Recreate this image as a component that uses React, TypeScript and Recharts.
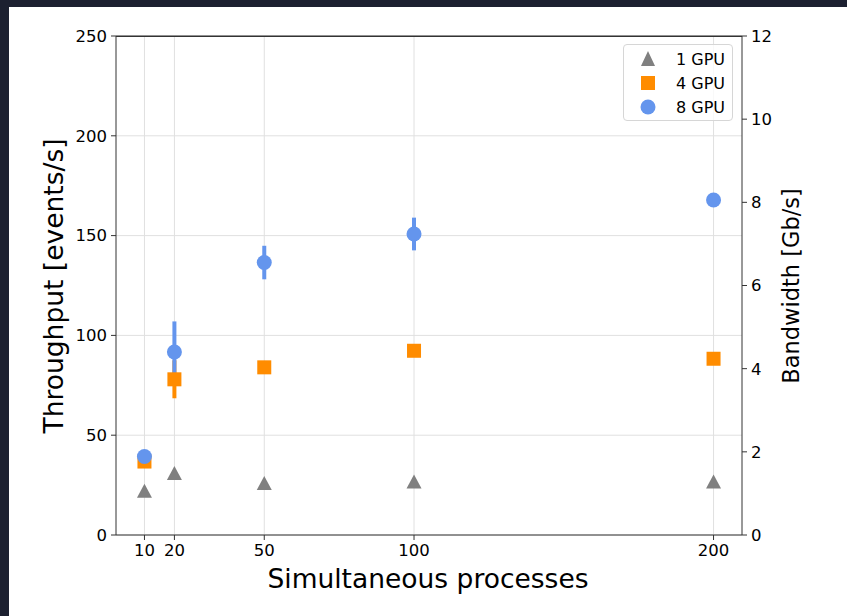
import { ScatterChart, Scatter, XAxis, YAxis, CartesianGrid, ErrorBar, Label, ReferenceLine } from "recharts"

const processes = [10, 20, 50, 100, 200]
const gpu1 = [21.7, 30.5, 25.5, 26.3, 26.3]
const gpu4 = [36.8, 78, 84, 92.3, 88.3]
const gpu4Err = [0, 9.5, 0, 0, 0]
const gpu8 = [39.3, 91.7, 136.5, 150.8, 167.8]
const gpu8Err = [0, 15.3, 8.4, 8.2, 0]

const xTicks = [10, 20, 50, 100, 200]
const leftTicks = [0, 50, 100, 150, 200, 250]
const rightTicks = [0, 2, 4, 6, 8, 10, 12]

const GREY = "#808080"
const ORANGE = "#ff8c00"
const BLUE = "#6495ed"
const FONT = "'DejaVu Sans', sans-serif"

const d1 = processes.map((x, i) => ({ x, y: gpu1[i] }))
const d4 = processes.map((x, i) => ({ x, y: gpu4[i], err: gpu4Err[i] }))
const d8 = processes.map((x, i) => ({ x, y: gpu8[i], err: gpu8Err[i] }))

const Triangle = (p: any) => (
  <polygon points={`${p.cx},${p.cy - 8} ${p.cx - 7.5},${p.cy + 6} ${p.cx + 7.5},${p.cy + 6}`} fill={GREY} />
)
const Square = (p: any) => <rect x={p.cx - 7} y={p.cy - 7} width={14} height={14} fill={ORANGE} />
const Dot = (p: any) => <circle cx={p.cx} cy={p.cy} r={7.5} fill={BLUE} />

const legendItems = [
  { name: "1 GPU", kind: "tri" },
  { name: "4 GPU", kind: "sq" },
  { name: "8 GPU", kind: "dot" },
]

function LegendBox() {
  return (
    <div
      style={{
        position: "absolute",
        left: 614,
        top: 37,
        width: 110,
        height: 77,
        border: "1px solid #d6d6d6",
        borderRadius: 4,
        background: "rgba(255,255,255,0.8)",
        fontFamily: FONT,
        fontSize: 16,
        color: "#000",
        boxSizing: "border-box",
        paddingTop: 2,
      }}
    >
      {legendItems.map((it) => (
        <div key={it.name} style={{ display: "flex", alignItems: "center", height: 24 }}>
          <svg width={40} height={20} style={{ marginLeft: 4 }}>
            {it.kind === "tri" && <polygon points="20,2 13,17 27,17" fill={GREY} />}
            {it.kind === "sq" && <rect x={13} y={3} width={14} height={14} fill={ORANGE} />}
            {it.kind === "dot" && <circle cx={20} cy={10} r={7.5} fill={BLUE} />}
          </svg>
          <span style={{ marginLeft: 8 }}>{it.name}</span>
        </div>
      ))}
    </div>
  )
}

const tickStyle = { fontSize: 16.5, fill: "#000", fontFamily: FONT }

export default function App() {
  return (
    <div style={{ position: "fixed", left: 0, top: 0, width: 847, height: 616, background: "#1c2030" }}>
      <div style={{ position: "absolute", left: 9, top: 7, width: 838, height: 609, background: "#fff" }}>
        <ScatterChart width={838} height={609} margin={{ top: 29, right: 45, bottom: 51, left: 47 }}>
          <CartesianGrid
            yAxisId="left"
            stroke="#e0e0e0"
            strokeWidth={1}
            verticalValues={xTicks}
            horizontalValues={leftTicks}
          />
          <XAxis
            type="number"
            dataKey="x"
            domain={[0.5, 209.5]}
            ticks={xTicks}
            tick={tickStyle}
            tickSize={5}
            tickMargin={4}
            stroke="#333"
            height={30}
            allowDataOverflow
          >
            <Label
              content={() => (
                <text x={419} y={581} textAnchor="middle" fontSize={26.5} fontFamily={FONT} fill="#000">
                  Simultaneous processes
                </text>
              )}
            />
          </XAxis>
          <YAxis
            yAxisId="left"
            type="number"
            dataKey="y"
            domain={[0, 250]}
            ticks={leftTicks}
            tick={tickStyle}
            tickSize={5}
            tickMargin={4}
            stroke="#333"
            width={60}
            allowDataOverflow
          >
            <Label
              content={() => (
                <text
                  x={44}
                  y={279}
                  textAnchor="middle"
                  fontSize={26.5}
                  fontFamily={FONT}
                  fill="#000"
                  transform="rotate(-90 44 279)"
                  dominantBaseline="central"
                >
                  Throughput [events/s]
                </text>
              )}
            />
          </YAxis>
          <YAxis
            yAxisId="right"
            orientation="right"
            type="number"
            domain={[0, 12]}
            ticks={rightTicks}
            tick={tickStyle}
            tickSize={5}
            tickMargin={4}
            stroke="#333"
            width={60}
            allowDataOverflow
          >
            <Label
              content={() => (
                <text
                  x={782}
                  y={279}
                  textAnchor="middle"
                  fontSize={22.5}
                  fontFamily={FONT}
                  fill="#000"
                  transform="rotate(-90 782 279)"
                  dominantBaseline="central"
                >
                  Bandwidth [Gb/s]
                </text>
              )}
            />
          </YAxis>
          <ReferenceLine yAxisId="right" y={12} stroke="#333" strokeWidth={1.2} ifOverflow="extendDomain" />
          <Scatter yAxisId="left" name="1 GPU" data={d1} shape={Triangle} isAnimationActive={false} />
          <Scatter yAxisId="left" name="4 GPU" data={d4} shape={Square} isAnimationActive={false}>
            <ErrorBar dataKey="err" direction="y" width={0} stroke={ORANGE} strokeWidth={4} />
          </Scatter>
          <Scatter yAxisId="left" name="8 GPU" data={d8} shape={Dot} isAnimationActive={false}>
            <ErrorBar dataKey="err" direction="y" width={0} stroke={BLUE} strokeWidth={4} />
          </Scatter>
        </ScatterChart>
        <div style={{ position: "absolute", left: 107, top: 29, width: 626, height: 1, background: "#333" }} />
        <LegendBox />
      </div>
    </div>
  )
}
